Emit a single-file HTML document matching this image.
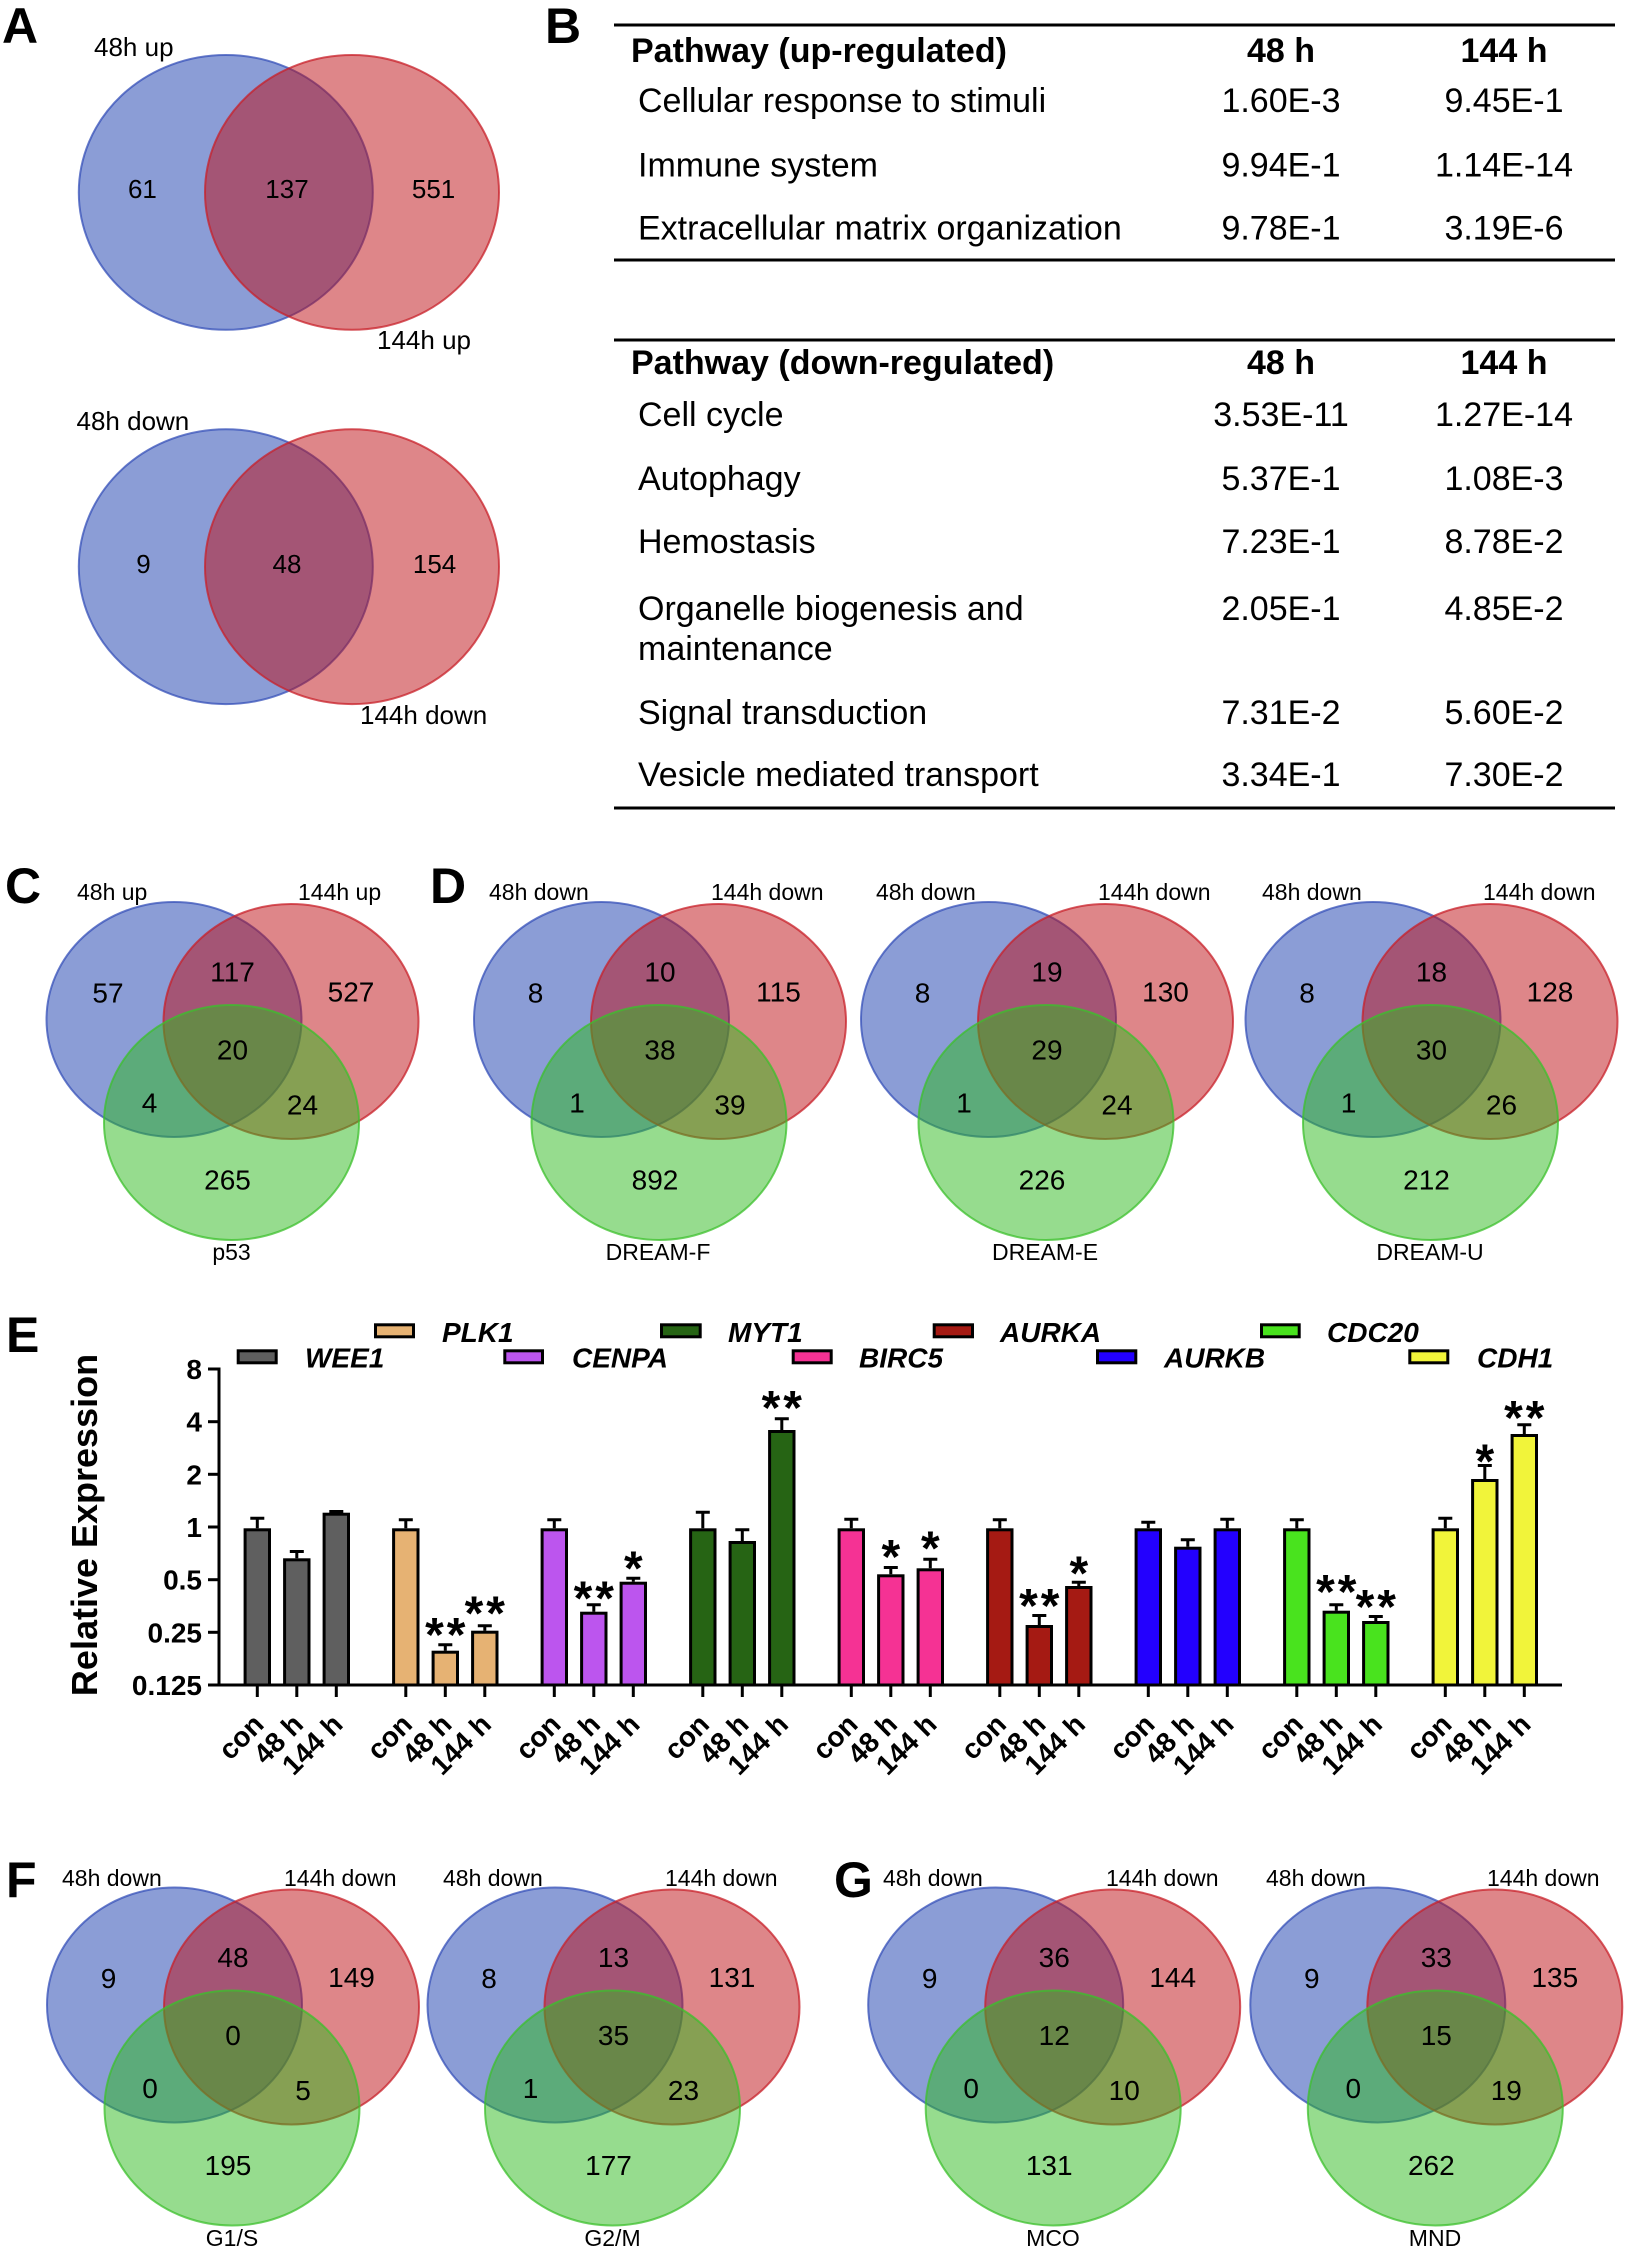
<!DOCTYPE html>
<html><head><meta charset="utf-8"><style>
html,body{margin:0;padding:0;background:#fff;}
svg{display:block;}
text{font-family:"Liberation Sans",Arial,sans-serif;fill:#000;}
.lt{font-size:50px;font-weight:bold;}
.vl{font-size:23px;}
.vn{font-size:28px;text-anchor:middle;}
.al{font-size:26px;}
.an{font-size:26px;text-anchor:middle;}
.th{font-size:34px;font-weight:bold;}
.thc{font-size:34px;font-weight:bold;text-anchor:middle;}
.tr{font-size:34px;}
.tv{font-size:34px;text-anchor:middle;}
.yt{font-size:28px;font-weight:bold;text-anchor:end;}
.xl{font-size:28px;font-weight:bold;text-anchor:end;}
.lg{font-size:28px;font-weight:bold;font-style:italic;}
.st{font-size:48px;font-weight:bold;text-anchor:middle;letter-spacing:3px;}
.eb{stroke:#000;stroke-width:3;fill:none;}
.bar{stroke:#000;stroke-width:3;}
.vb{fill:#173bad;fill-opacity:.5;stroke:#3550b8;stroke-opacity:.75;stroke-width:2;}
.vr{fill:#bd0d13;fill-opacity:.5;stroke:#c8202a;stroke-opacity:.75;stroke-width:2;}
.vg{fill:#2db91d;fill-opacity:.5;stroke:#3cc02c;stroke-opacity:.75;stroke-width:2;}
</style></head><body>
<svg width="1627" height="2250" viewBox="0 0 1627 2250" xmlns="http://www.w3.org/2000/svg">
<rect width="1627" height="2250" fill="#fff"/>

<!-- Panel letters -->
<text class="lt" x="2" y="43">A</text>
<text class="lt" x="545" y="43">B</text>
<text class="lt" x="5" y="903">C</text>
<text class="lt" x="430" y="903">D</text>
<text class="lt" x="6" y="1352">E</text>
<text class="lt" x="6" y="1897">F</text>
<text class="lt" x="834" y="1897">G</text>

<!-- Panel A -->
<ellipse class="vb" cx="225.8" cy="192.4" rx="147" ry="137.4"/>
<ellipse class="vr" cx="352" cy="192.4" rx="147" ry="137.4"/>
<text class="al" x="94" y="56">48h up</text>
<text class="al" x="377" y="349">144h up</text>
<text class="an" x="142.4" y="198">61</text>
<text class="an" x="287" y="198">137</text>
<text class="an" x="433.6" y="198">551</text>

<ellipse class="vb" cx="225.8" cy="566.7" rx="147" ry="137.4"/>
<ellipse class="vr" cx="352" cy="566.7" rx="147" ry="137.4"/>
<text class="al" x="76.5" y="430">48h down</text>
<text class="al" x="360" y="724">144h down</text>
<text class="an" x="143.5" y="573">9</text>
<text class="an" x="287" y="573">48</text>
<text class="an" x="434.6" y="573">154</text>

<!-- Panel B table -->
<g stroke="#000" stroke-width="3">
<line x1="614" y1="25" x2="1615" y2="25"/>
<line x1="614" y1="260" x2="1615" y2="260"/>
<line x1="614" y1="340" x2="1615" y2="340"/>
<line x1="614" y1="808" x2="1615" y2="808"/>
</g>
<text class="th" x="631" y="62">Pathway (up-regulated)</text>
<text class="thc" x="1281" y="62">48 h</text>
<text class="thc" x="1504" y="62">144 h</text>
<text class="tr" x="638" y="112">Cellular response to stimuli</text>
<text class="tv" x="1281" y="112">1.60E-3</text>
<text class="tv" x="1504" y="112">9.45E-1</text>
<text class="tr" x="638" y="176.5">Immune system</text>
<text class="tv" x="1281" y="176.5">9.94E-1</text>
<text class="tv" x="1504" y="176.5">1.14E-14</text>
<text class="tr" x="638" y="239.5">Extracellular matrix organization</text>
<text class="tv" x="1281" y="239.5">9.78E-1</text>
<text class="tv" x="1504" y="239.5">3.19E-6</text>

<text class="th" x="631" y="374">Pathway (down-regulated)</text>
<text class="thc" x="1281" y="374">48 h</text>
<text class="thc" x="1504" y="374">144 h</text>
<text class="tr" x="638" y="426">Cell cycle</text>
<text class="tv" x="1281" y="426">3.53E-11</text>
<text class="tv" x="1504" y="426">1.27E-14</text>
<text class="tr" x="638" y="490">Autophagy</text>
<text class="tv" x="1281" y="490">5.37E-1</text>
<text class="tv" x="1504" y="490">1.08E-3</text>
<text class="tr" x="638" y="553">Hemostasis</text>
<text class="tv" x="1281" y="553">7.23E-1</text>
<text class="tv" x="1504" y="553">8.78E-2</text>
<text class="tr" x="638" y="620">Organelle biogenesis and</text>
<text class="tr" x="638" y="660">maintenance</text>
<text class="tv" x="1281" y="620">2.05E-1</text>
<text class="tv" x="1504" y="620">4.85E-2</text>
<text class="tr" x="638" y="724">Signal transduction</text>
<text class="tv" x="1281" y="724">7.31E-2</text>
<text class="tv" x="1504" y="724">5.60E-2</text>
<text class="tr" x="638" y="786">Vesicle mediated transport</text>
<text class="tv" x="1281" y="786">3.34E-1</text>
<text class="tv" x="1504" y="786">7.30E-2</text>

<!-- Panel C -->
<g transform="translate(174,1019.5)">
<ellipse class="vb" cx="0" cy="0" rx="127.5" ry="117.5"/>
<ellipse class="vr" cx="117" cy="2" rx="127.5" ry="117.5"/>
<ellipse class="vg" cx="57.5" cy="103" rx="127.5" ry="117.5"/>
<text class="vn" x="-66" y="-17">57</text>
<text class="vn" x="58.5" y="-38">117</text>
<text class="vn" x="177" y="-18">527</text>
<text class="vn" x="58.5" y="40">20</text>
<text class="vn" x="-24.5" y="93">4</text>
<text class="vn" x="128.5" y="95">24</text>
<text class="vn" x="53.5" y="170">265</text>
</g>
<text class="vl" x="77" y="900">48h up</text>
<text class="vl" x="298" y="900">144h up</text>
<text class="vl" x="231.5" y="1260" text-anchor="middle">p53</text>

<!-- Panel D1 -->
<g transform="translate(601.5,1019.5)">
<ellipse class="vb" cx="0" cy="0" rx="127.5" ry="117.5"/>
<ellipse class="vr" cx="117" cy="2" rx="127.5" ry="117.5"/>
<ellipse class="vg" cx="57.5" cy="103" rx="127.5" ry="117.5"/>
<text class="vn" x="-66" y="-17">8</text>
<text class="vn" x="58.5" y="-38">10</text>
<text class="vn" x="177" y="-18">115</text>
<text class="vn" x="58.5" y="40">38</text>
<text class="vn" x="-24.5" y="93">1</text>
<text class="vn" x="128.5" y="95">39</text>
<text class="vn" x="53.5" y="170">892</text>
</g>
<text class="vl" x="489" y="900">48h down</text>
<text class="vl" x="711" y="900">144h down</text>
<text class="vl" x="658" y="1260" text-anchor="middle">DREAM-F</text>

<!-- Panel D2 -->
<g transform="translate(988.5,1019.5)">
<ellipse class="vb" cx="0" cy="0" rx="127.5" ry="117.5"/>
<ellipse class="vr" cx="117" cy="2" rx="127.5" ry="117.5"/>
<ellipse class="vg" cx="57.5" cy="103" rx="127.5" ry="117.5"/>
<text class="vn" x="-66" y="-17">8</text>
<text class="vn" x="58.5" y="-38">19</text>
<text class="vn" x="177" y="-18">130</text>
<text class="vn" x="58.5" y="40">29</text>
<text class="vn" x="-24.5" y="93">1</text>
<text class="vn" x="128.5" y="95">24</text>
<text class="vn" x="53.5" y="170">226</text>
</g>
<text class="vl" x="876" y="900">48h down</text>
<text class="vl" x="1098" y="900">144h down</text>
<text class="vl" x="1045" y="1260" text-anchor="middle">DREAM-E</text>

<!-- Panel D3 -->
<g transform="translate(1373,1019.5)">
<ellipse class="vb" cx="0" cy="0" rx="127.5" ry="117.5"/>
<ellipse class="vr" cx="117" cy="2" rx="127.5" ry="117.5"/>
<ellipse class="vg" cx="57.5" cy="103" rx="127.5" ry="117.5"/>
<text class="vn" x="-66" y="-17">8</text>
<text class="vn" x="58.5" y="-38">18</text>
<text class="vn" x="177" y="-18">128</text>
<text class="vn" x="58.5" y="40">30</text>
<text class="vn" x="-24.5" y="93">1</text>
<text class="vn" x="128.5" y="95">26</text>
<text class="vn" x="53.5" y="170">212</text>
</g>
<text class="vl" x="1262" y="900">48h down</text>
<text class="vl" x="1483" y="900">144h down</text>
<text class="vl" x="1430" y="1260" text-anchor="middle">DREAM-U</text>

<!-- Panel E -->
<!-- legend -->
<g class="bar">
<rect x="375.5" y="1324.8" width="38" height="12" fill="#e6b273"/>
<rect x="661.5" y="1324.8" width="38.7" height="12" fill="#266414"/>
<rect x="934.2" y="1324.8" width="38.3" height="12" fill="#a51a13"/>
<rect x="1261.5" y="1324.8" width="37.7" height="12" fill="#49e31e"/>
<rect x="238.2" y="1350.8" width="38" height="12" fill="#5f5f5f"/>
<rect x="504.8" y="1350.8" width="37.7" height="12" fill="#bc55ee"/>
<rect x="793.2" y="1350.8" width="38" height="12" fill="#f53294"/>
<rect x="1097.5" y="1350.8" width="38.3" height="12" fill="#2300fe"/>
<rect x="1409.8" y="1350.8" width="38" height="12" fill="#f1f43a"/>
</g>
<text class="lg" x="442" y="1342">PLK1</text>
<text class="lg" x="728" y="1342">MYT1</text>
<text class="lg" x="1000" y="1342">AURKA</text>
<text class="lg" x="1327" y="1342">CDC20</text>
<text class="lg" x="305" y="1367.5">WEE1</text>
<text class="lg" x="572" y="1367.5">CENPA</text>
<text class="lg" x="859" y="1367.5">BIRC5</text>
<text class="lg" x="1164" y="1367.5">AURKB</text>
<text class="lg" x="1477" y="1367.5">CDH1</text>

<!-- axis title -->
<text transform="translate(97,1525) rotate(-90)" text-anchor="middle" style="font-size:36px;font-weight:bold;">Relative Expression</text>

<!-- y axis -->
<g stroke="#000" stroke-width="3">
<line x1="219" y1="1367.5" x2="219" y2="1686.5"/>
<line x1="208" y1="1369" x2="219" y2="1369"/>
<line x1="208" y1="1421.7" x2="219" y2="1421.7"/>
<line x1="208" y1="1474.3" x2="219" y2="1474.3"/>
<line x1="208" y1="1527" x2="219" y2="1527"/>
<line x1="208" y1="1579.7" x2="219" y2="1579.7"/>
<line x1="208" y1="1632.3" x2="219" y2="1632.3"/>
<line x1="208" y1="1685" x2="1562" y2="1685"/>
</g>
<text class="yt" x="202" y="1379">8</text>
<text class="yt" x="202" y="1431.7">4</text>
<text class="yt" x="202" y="1484.3">2</text>
<text class="yt" x="202" y="1537">1</text>
<text class="yt" x="202" y="1589.7">0.5</text>
<text class="yt" x="202" y="1642.3">0.25</text>
<text class="yt" x="202" y="1695">0.125</text>

<!-- bars -->
<g class="bar">
<rect x="245.1" y="1529.8" width="24.4" height="155.2" fill="#5f5f5f"/>
<rect x="284.6" y="1559.8" width="24.4" height="125.2" fill="#5f5f5f"/>
<rect x="324.1" y="1514.2" width="24.4" height="170.8" fill="#5f5f5f"/>

<rect x="393.6" y="1529.8" width="24.4" height="155.2" fill="#e6b273"/>
<rect x="433.1" y="1652.2" width="24.4" height="32.8" fill="#e6b273"/>
<rect x="472.6" y="1632.2" width="24.4" height="52.8" fill="#e6b273"/>

<rect x="542.1" y="1529.8" width="24.4" height="155.2" fill="#bc55ee"/>
<rect x="581.6" y="1613.2" width="24.4" height="71.8" fill="#bc55ee"/>
<rect x="621.1" y="1583.2" width="24.4" height="101.8" fill="#bc55ee"/>

<rect x="690.6" y="1529.8" width="24.4" height="155.2" fill="#266414"/>
<rect x="730.1" y="1542.5" width="24.4" height="142.5" fill="#266414"/>
<rect x="769.6" y="1431.5" width="24.4" height="253.5" fill="#266414"/>

<rect x="839.1" y="1529.8" width="24.4" height="155.2" fill="#f53294"/>
<rect x="878.6" y="1575.8" width="24.4" height="109.2" fill="#f53294"/>
<rect x="918.1" y="1569.8" width="24.4" height="115.2" fill="#f53294"/>

<rect x="987.6" y="1529.8" width="24.4" height="155.2" fill="#a51a13"/>
<rect x="1027.1" y="1626.5" width="24.4" height="58.5" fill="#a51a13"/>
<rect x="1066.6" y="1587.5" width="24.4" height="97.5" fill="#a51a13"/>

<rect x="1136.1" y="1529.8" width="24.4" height="155.2" fill="#2300fe"/>
<rect x="1175.6" y="1548.2" width="24.4" height="136.8" fill="#2300fe"/>
<rect x="1215.1" y="1529.8" width="24.4" height="155.2" fill="#2300fe"/>

<rect x="1284.6" y="1529.8" width="24.4" height="155.2" fill="#49e31e"/>
<rect x="1324.1" y="1612.2" width="24.4" height="72.8" fill="#49e31e"/>
<rect x="1363.6" y="1622.5" width="24.4" height="62.5" fill="#49e31e"/>

<rect x="1433.1" y="1529.8" width="24.4" height="155.2" fill="#f1f43a"/>
<rect x="1472.6" y="1480.5" width="24.4" height="204.5" fill="#f1f43a"/>
<rect x="1512.1" y="1435.5" width="24.4" height="249.5" fill="#f1f43a"/>
</g>

<!-- error bars -->
<path class="eb" d="
M257.3,1528.3V1516.7M250.3,1518.2H264.3
M296.8,1558.3V1550M289.8,1551.5H303.8
M336.3,1512.7V1510M329.3,1511.5H343.3
M405.8,1528.3V1518.3M398.8,1519.8H412.8
M445.3,1650.7V1643.3M438.3,1644.8H452.3
M484.8,1630.7V1624.3M477.8,1625.8H491.8
M554.3,1528.3V1518.3M547.3,1519.8H561.3
M593.8,1611.7V1603.3M586.8,1604.8H600.8
M633.3,1581.7V1576.7M626.3,1578.2H640.3
M702.8,1528.3V1510.7M695.8,1512.2H709.8
M742.3,1541V1528.3M735.3,1529.8H749.3
M781.8,1430V1417.3M774.8,1418.8H788.8
M851.3,1528.3V1517.7M844.3,1519.2H858.3
M890.8,1574.3V1566M883.8,1567.5H897.8
M930.3,1568.3V1557.7M923.3,1559.2H937.3
M999.8,1528.3V1518.3M992.8,1519.8H1006.8
M1039.3,1625V1614M1032.3,1615.5H1046.3
M1078.8,1586V1580.7M1071.8,1582.2H1085.8
M1148.3,1528.3V1520.7M1141.3,1522.2H1155.3
M1187.8,1546.7V1538.3M1180.8,1539.8H1194.8
M1227.3,1528.3V1517.7M1220.3,1519.2H1234.3
M1296.8,1528.3V1518.3M1289.8,1519.8H1303.8
M1336.3,1610.7V1603.3M1329.3,1604.8H1343.3
M1375.8,1621V1615M1368.8,1616.5H1382.8
M1445.3,1528.3V1516.7M1438.3,1518.2H1452.3
M1484.8,1479V1464M1477.8,1465.5H1491.8
M1524.3,1434V1423.3M1517.3,1424.8H1531.3"/>

<!-- x ticks -->
<path class="eb" d="
M257.3,1685V1697M296.8,1685V1697M336.3,1685V1697
M405.8,1685V1697M445.3,1685V1697M484.8,1685V1697
M554.3,1685V1697M593.8,1685V1697M633.3,1685V1697
M702.8,1685V1697M742.3,1685V1697M781.8,1685V1697
M851.3,1685V1697M890.8,1685V1697M930.3,1685V1697
M999.8,1685V1697M1039.3,1685V1697M1078.8,1685V1697
M1148.3,1685V1697M1187.8,1685V1697M1227.3,1685V1697
M1296.8,1685V1697M1336.3,1685V1697M1375.8,1685V1697
M1445.3,1685V1697M1484.8,1685V1697M1524.3,1685V1697"/>

<!-- stars -->
<text class="st" x="446.8" y="1651">**</text>
<text class="st" x="486.3" y="1629.7">**</text>
<text class="st" x="595.3" y="1614.7">**</text>
<text class="st" x="634.8" y="1584.7">*</text>
<text class="st" x="783.3" y="1424">**</text>
<text class="st" x="892.3" y="1573">*</text>
<text class="st" x="931.8" y="1564.7">*</text>
<text class="st" x="1040.8" y="1622">**</text>
<text class="st" x="1080.3" y="1589.7">*</text>
<text class="st" x="1337.8" y="1608">**</text>
<text class="st" x="1377.3" y="1623">**</text>
<text class="st" x="1486.3" y="1477.3">*</text>
<text class="st" x="1525.8" y="1434">**</text>

<!-- x labels -->
<text class="xl" transform="translate(265.3,1726) rotate(-45)">con</text>
<text class="xl" transform="translate(304.8,1726) rotate(-45)">48 h</text>
<text class="xl" transform="translate(344.3,1726) rotate(-45)">144 h</text>
<text class="xl" transform="translate(413.8,1726) rotate(-45)">con</text>
<text class="xl" transform="translate(453.3,1726) rotate(-45)">48 h</text>
<text class="xl" transform="translate(492.8,1726) rotate(-45)">144 h</text>
<text class="xl" transform="translate(562.3,1726) rotate(-45)">con</text>
<text class="xl" transform="translate(601.8,1726) rotate(-45)">48 h</text>
<text class="xl" transform="translate(641.3,1726) rotate(-45)">144 h</text>
<text class="xl" transform="translate(710.8,1726) rotate(-45)">con</text>
<text class="xl" transform="translate(750.3,1726) rotate(-45)">48 h</text>
<text class="xl" transform="translate(789.8,1726) rotate(-45)">144 h</text>
<text class="xl" transform="translate(859.3,1726) rotate(-45)">con</text>
<text class="xl" transform="translate(898.8,1726) rotate(-45)">48 h</text>
<text class="xl" transform="translate(938.3,1726) rotate(-45)">144 h</text>
<text class="xl" transform="translate(1007.8,1726) rotate(-45)">con</text>
<text class="xl" transform="translate(1047.3,1726) rotate(-45)">48 h</text>
<text class="xl" transform="translate(1086.8,1726) rotate(-45)">144 h</text>
<text class="xl" transform="translate(1156.3,1726) rotate(-45)">con</text>
<text class="xl" transform="translate(1195.8,1726) rotate(-45)">48 h</text>
<text class="xl" transform="translate(1235.3,1726) rotate(-45)">144 h</text>
<text class="xl" transform="translate(1304.8,1726) rotate(-45)">con</text>
<text class="xl" transform="translate(1344.3,1726) rotate(-45)">48 h</text>
<text class="xl" transform="translate(1383.8,1726) rotate(-45)">144 h</text>
<text class="xl" transform="translate(1453.3,1726) rotate(-45)">con</text>
<text class="xl" transform="translate(1492.8,1726) rotate(-45)">48 h</text>
<text class="xl" transform="translate(1532.3,1726) rotate(-45)">144 h</text>

<!-- Panel F1 -->
<g transform="translate(174.5,2005)">
<ellipse class="vb" cx="0" cy="0" rx="127.5" ry="117.5"/>
<ellipse class="vr" cx="117" cy="2" rx="127.5" ry="117.5"/>
<ellipse class="vg" cx="57.5" cy="103" rx="127.5" ry="117.5"/>
<text class="vn" x="-66" y="-17">9</text>
<text class="vn" x="58.5" y="-38">48</text>
<text class="vn" x="177" y="-18">149</text>
<text class="vn" x="58.5" y="40">0</text>
<text class="vn" x="-24.5" y="93">0</text>
<text class="vn" x="128.5" y="95">5</text>
<text class="vn" x="53.5" y="170">195</text>
</g>
<text class="vl" x="62" y="1886">48h down</text>
<text class="vl" x="284" y="1886">144h down</text>
<text class="vl" x="232" y="2246" text-anchor="middle">G1/S</text>

<!-- Panel F2 -->
<g transform="translate(555,2005)">
<ellipse class="vb" cx="0" cy="0" rx="127.5" ry="117.5"/>
<ellipse class="vr" cx="117" cy="2" rx="127.5" ry="117.5"/>
<ellipse class="vg" cx="57.5" cy="103" rx="127.5" ry="117.5"/>
<text class="vn" x="-66" y="-17">8</text>
<text class="vn" x="58.5" y="-38">13</text>
<text class="vn" x="177" y="-18">131</text>
<text class="vn" x="58.5" y="40">35</text>
<text class="vn" x="-24.5" y="93">1</text>
<text class="vn" x="128.5" y="95">23</text>
<text class="vn" x="53.5" y="170">177</text>
</g>
<text class="vl" x="443" y="1886">48h down</text>
<text class="vl" x="665" y="1886">144h down</text>
<text class="vl" x="612.5" y="2246" text-anchor="middle">G2/M</text>

<!-- Panel G1 -->
<g transform="translate(995.7,2005)">
<ellipse class="vb" cx="0" cy="0" rx="127.5" ry="117.5"/>
<ellipse class="vr" cx="117" cy="2" rx="127.5" ry="117.5"/>
<ellipse class="vg" cx="57.5" cy="103" rx="127.5" ry="117.5"/>
<text class="vn" x="-66" y="-17">9</text>
<text class="vn" x="58.5" y="-38">36</text>
<text class="vn" x="177" y="-18">144</text>
<text class="vn" x="58.5" y="40">12</text>
<text class="vn" x="-24.5" y="93">0</text>
<text class="vn" x="128.5" y="95">10</text>
<text class="vn" x="53.5" y="170">131</text>
</g>
<text class="vl" x="883" y="1886">48h down</text>
<text class="vl" x="1106" y="1886">144h down</text>
<text class="vl" x="1053" y="2246" text-anchor="middle">MCO</text>

<!-- Panel G2 -->
<g transform="translate(1377.8,2005)">
<ellipse class="vb" cx="0" cy="0" rx="127.5" ry="117.5"/>
<ellipse class="vr" cx="117" cy="2" rx="127.5" ry="117.5"/>
<ellipse class="vg" cx="57.5" cy="103" rx="127.5" ry="117.5"/>
<text class="vn" x="-66" y="-17">9</text>
<text class="vn" x="58.5" y="-38">33</text>
<text class="vn" x="177" y="-18">135</text>
<text class="vn" x="58.5" y="40">15</text>
<text class="vn" x="-24.5" y="93">0</text>
<text class="vn" x="128.5" y="95">19</text>
<text class="vn" x="53.5" y="170">262</text>
</g>
<text class="vl" x="1266" y="1886">48h down</text>
<text class="vl" x="1487" y="1886">144h down</text>
<text class="vl" x="1435" y="2246" text-anchor="middle">MND</text>
</svg>
</body></html>
